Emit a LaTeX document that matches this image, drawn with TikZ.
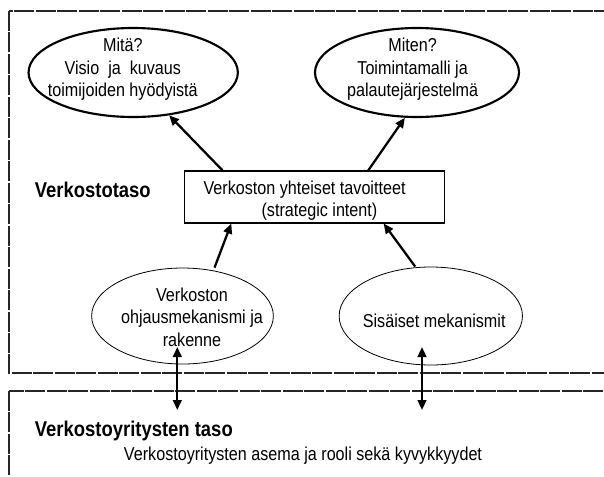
\documentclass[tikz,border=0pt]{standalone}
\usepackage{fontspec}
\setmainfont[FakeStretch=0.865]{Liberation Sans}
\usetikzlibrary{arrows.meta,shapes.geometric}

\begin{document}
\begin{tikzpicture}[x=0.75pt,y=-0.75pt,>={Triangle[length=7.5pt,width=6.5pt]},
  font=\fontsize{14}{17}\selectfont,
  taso/.style={draw=black!85,line width=1.1pt,dash pattern=on 15pt off 1.1pt},
  soikio/.style={draw,ellipse,inner sep=0pt},
  teksti/.style={align=center,inner sep=0pt},
  otsikko/.style={font=\fontsize{16}{19}\selectfont\bfseries,inner sep=0pt,anchor=west},
  nuoli/.style={->,line width=1.7pt}]
\useasboundingbox (0,0) rectangle (604,476);
% tasojen rajat (katkoviiva)
\draw[taso] (9,11) rectangle (615,373);
\draw[taso] (9,391) rectangle (615,490);
% verkostotaso
\node[otsikko] (verkosto) at (34.6,190) {Verkostotaso};
\node[soikio,line width=1.6pt,minimum width=157pt,minimum height=66.75pt] (tl) at (133.2,72.5) {};
\node[teksti] (tlt) at (122.8,69.5) {Mitä?\\Visio~~ja~~kuvaus\\toimijoiden hyödyistä};
\node[soikio,line width=1.6pt,minimum width=153pt,minimum height=66.75pt] (tr) at (417,72.5) {};
\node[teksti] (trt) at (412.6,69.5) {Miten?\\Toimintamalli ja\\palautejärjestelmä};
\node[draw,line width=0.8pt,minimum width=195.3pt,minimum height=39pt] (box) at (314.4,197) {};
\node[inner sep=0pt,align=left,anchor=west] (boxt) at (203.3,200.5)
  {Verkoston yhteiset tavoitteet\\\hspace*{43.5pt}(strategic intent)};
\node[soikio,line width=0.6pt,minimum width=136.3pt,minimum height=72pt] (bl) at (182.5,316) {};
\node[teksti] (blt) at (192,317) {Verkoston\\ohjausmekanismi ja\\rakenne};
\node[soikio,line width=0.6pt,minimum width=137.5pt,minimum height=73.5pt] (br) at (430.8,316) {};
\node[teksti] (brt) at (434.2,321) {Sisäiset mekanismit};
% nuolet
\draw[nuoli] ([xshift=29.2pt]box.north west) -- (tl.-50);
\draw[nuoli] ([xshift=-57.7pt]box.north east) -- (tr.-105);
\draw[nuoli] ([xshift=24pt]bl.north) -- ([xshift=35.7pt]box.south west);
\draw[nuoli] ([xshift=-11.7pt]br.north) -- ([xshift=-46.1pt]box.south east);
% tasojen väliset nuolet
\coordinate (v1) at (177.3,347);
\coordinate (v1b) at (177.3,410);
\coordinate (v2) at (422,347);
\coordinate (v2b) at (422,410);
\draw[<->,line width=1.7pt] (v1) -- (v1b);
\draw[<->,line width=1.7pt] (v2) -- (v2b);
% verkostoyritysten taso
\node[otsikko] (yritys) at (34.6,431) {Verkostoyritysten taso};
\node[inner sep=0pt,anchor=west] (yritt) at (123.7,456) {Verkostoyritysten asema ja rooli sekä kyvykkyydet};
\end{tikzpicture}
\end{document}
